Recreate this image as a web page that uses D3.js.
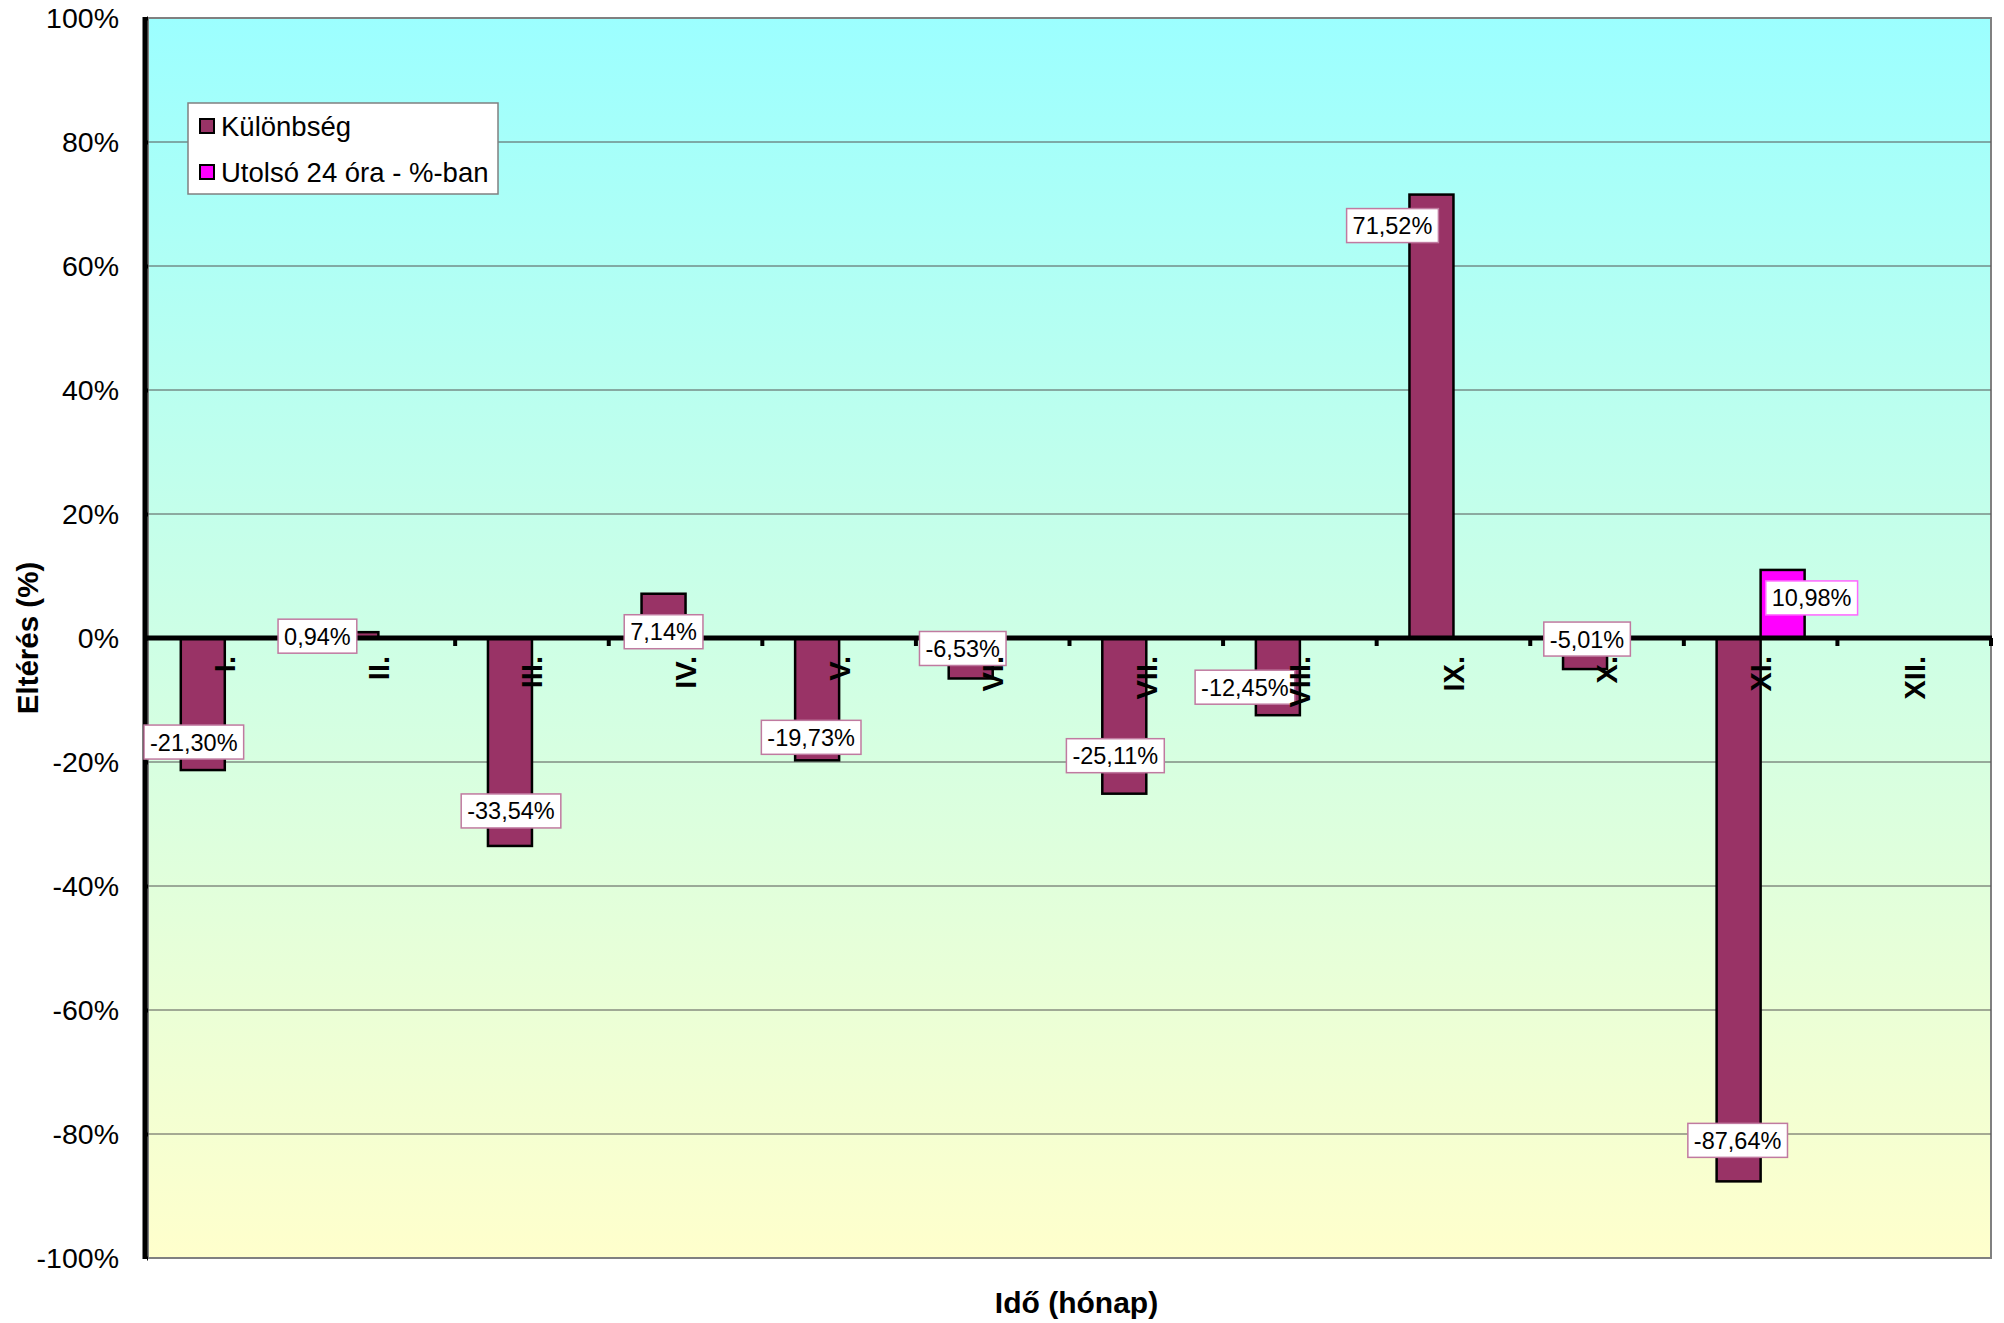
<!DOCTYPE html>
<meta charset="utf-8">
<html>
<head>
<script src="https://d3js.org/d3.v7.min.js"></script>
<style>
  body { margin: 0; background: #fff; }
  text { font-family: "Liberation Sans", Arial, Helvetica, sans-serif; }
</style>
</head>
<body>
<div id="my_dataviz"></div>
<script>

// categories (months)
var months = ["I.", "II.", "III.", "IV.", "V.", "VI.", "VII.", "VIII.", "IX.", "X.", "XI.", "XII."];
var seriesNames = ["Különbség", "Utolsó 24 óra - %-ban"];

// values in %
var kulonbseg = [-21.30, 0.94, -33.54, 7.14, -19.73, -6.53, -25.11, -12.45, 71.52, -5.01, -87.64, null];
var utolso24 = [null, null, null, null, null, null, null, null, null, null, 10.98, null];

// y axis ticks
var yTicks = [-100, -80, -60, -40, -20, 0, 20, 40, 60, 80, 100];

// data label nudges (px) from bar centre / bar end, as placed in the original
var labelNudge1 = [[-9,-28],[-39,4],[1,-35],[0,38],[-6,-23],[-8,-30],[-9,-38],[-33,-28],[-39,31],[2,-30],[-1,-41],[0,0]];
var labelNudge2 = [[0,0],[0,0],[0,0],[0,0],[0,0],[0,0],[0,0],[0,0],[0,0],[0,0],[29,28],[0,0]];

var colors = ["#993366", "#ff00ff"];
var labelBorders = ["#c07aa0", "#ff66ff"];

var W = 2004, H = 1323;
var margin = {top: 18, right: 13, bottom: 65, left: 148};
var width = W - margin.left - margin.right,
    height = H - margin.top - margin.bottom;

var svgRoot = d3.select("#my_dataviz")
  .append("svg")
    .attr("width", W)
    .attr("height", H);

// background gradient
var defs = svgRoot.append("defs");
var grad = defs.append("linearGradient")
    .attr("id", "bg")
    .attr("x1", 0).attr("y1", 0).attr("x2", 0).attr("y2", 1);
grad.append("stop").attr("offset", "0%").attr("stop-color", "#9cffff");
grad.append("stop").attr("offset", "100%").attr("stop-color", "#ffffcc");

var svg = svgRoot.append("g")
    .attr("transform", "translate(" + margin.left + "," + margin.top + ")");

// scales
var x = d3.scaleBand()
  .domain(months)
  .range([0, width])
  .padding(0);

var x1 = d3.scaleBand()
  .domain(seriesNames)
  .range([x.bandwidth() * 0.2135, x.bandwidth() * 0.7865]);

var y = d3.scaleLinear()
  .domain([-100, 100])
  .range([height, 0]);

// plot area
svg.append("rect")
  .attr("x", 0).attr("y", 0)
  .attr("width", width).attr("height", height)
  .attr("fill", "url(#bg)")
  .attr("stroke", "#808080")
  .attr("stroke-width", 2);

// gridlines
svg.selectAll(".grid")
  .data(yTicks.filter(function(d) { return d !== 0 && d !== -100 && d !== 100; }))
  .enter()
  .append("line")
    .attr("x1", 0).attr("x2", width)
    .attr("y1", function(d) { return y(d); })
    .attr("y2", function(d) { return y(d); })
    .attr("stroke", "#555")
    .attr("stroke-width", 1);

// bars
var rows = months.map(function(m, i) {
  return {month: m, vals: [
    {s: 0, name: seriesNames[0], v: kulonbseg[i], nudge: labelNudge1[i]},
    {s: 1, name: seriesNames[1], v: utolso24[i], nudge: labelNudge2[i]}
  ].filter(function(d) { return d.v !== null; })};
});

var groups = svg.selectAll(".grp")
  .data(rows)
  .enter()
  .append("g")
    .attr("transform", function(d) { return "translate(" + x(d.month) + ",0)"; });

groups.selectAll("rect")
  .data(function(d) { return d.vals; })
  .enter()
  .append("rect")
    .attr("x", function(d) { return x1(d.name); })
    .attr("y", function(d) { return y(Math.max(0, d.v)); })
    .attr("width", x1.bandwidth())
    .attr("height", function(d) { return Math.abs(y(d.v) - y(0)); })
    .attr("fill", function(d) { return colors[d.s]; })
    .attr("stroke", "#000")
    .attr("stroke-width", 2.5);

// y axis (left) - thick line with ticks
var yAxis = svg.append("g")
  .call(d3.axisLeft(y).tickValues(yTicks).tickSize(9).tickFormat(function(d) { return d + "%"; }));
yAxis.select(".domain").remove();
yAxis.selectAll(".tick line").attr("stroke", "#000").attr("stroke-width", 4).attr("x2", -1);
yAxis.selectAll(".tick text")
  .attr("x", -29)
  .attr("dy", "0.35em")
  .style("font-size", "28.5px")
  .attr("fill", "#000");
svg.append("line")
  .attr("x1", -3).attr("x2", -3)
  .attr("y1", -1).attr("y2", height + 1)
  .attr("stroke", "#000").attr("stroke-width", 5);

// zero line with category ticks
svg.append("line")
  .attr("x1", -3).attr("x2", width + 1)
  .attr("y1", y(0)).attr("y2", y(0))
  .attr("stroke", "#000").attr("stroke-width", 5);
svg.selectAll(".xtick")
  .data(months.slice(1).concat(["end"]))
  .enter()
  .append("line")
    .attr("x1", function(d, i) { return x.step() * (i + 1); })
    .attr("x2", function(d, i) { return x.step() * (i + 1); })
    .attr("y1", y(0)).attr("y2", y(0) + 8)
    .attr("stroke", "#000").attr("stroke-width", 4);

// data labels (above the axis lines)
var labelGroups = svg.selectAll(".lblgrp")
  .data(rows)
  .enter()
  .append("g")
    .attr("transform", function(d) { return "translate(" + x(d.month) + ",0)"; });

var labels = labelGroups.selectAll(".lbl")
  .data(function(d) { return d.vals; })
  .enter()
  .append("g")
    .attr("transform", function(d) {
      var cx = x1(d.name) + x1.bandwidth() / 2 + d.nudge[0];
      var cy = y(d.v) + d.nudge[1];
      return "translate(" + cx + "," + cy + ")";
    });

labels.append("text")
  .attr("text-anchor", "middle")
  .attr("dy", "0.36em")
  .style("font-size", "23.5px")
  .attr("fill", "#000")
  .text(function(d) { return d3.format(".2f")(d.v).replace("−", "-").replace(".", ",") + "%"; })
  .each(function(d) {
    var bb = this.getBBox();
    d3.select(this.parentNode).insert("rect", "text")
      .attr("x", bb.x - 6).attr("y", -17)
      .attr("width", bb.width + 12).attr("height", 34)
      .attr("fill", "#fff")
      .attr("stroke", labelBorders[d.s])
      .attr("stroke-width", 1.5);
  });

// category labels (rotated)
svg.selectAll(".cat")
  .data(months)
  .enter()
  .append("text")
    .attr("transform", function(d) {
      return "translate(" + (x(d) + x.bandwidth() / 2) + "," + (y(0) + 18) + ") rotate(-90)";
    })
    .attr("text-anchor", "end")
    .attr("dy", "0.36em")
    .style("font-size", "29px")
    .style("font-weight", "bold")
    .attr("fill", "#000")
    .text(function(d) { return d; });

// axis titles
svg.append("text")
  .attr("transform", "translate(" + (28 - margin.left) + "," + (height / 2) + ") rotate(-90)")
  .attr("text-anchor", "middle")
  .attr("dy", "0.35em")
  .style("font-size", "29.5px")
  .style("font-weight", "bold")
  .text("Eltérés (%)");

svg.append("text")
  .attr("x", width / 2 + 7)
  .attr("y", 1313 - margin.top)
  .attr("text-anchor", "middle")
  .style("font-size", "30px")
  .style("font-weight", "bold")
  .text("Idő (hónap)");

// legend
var legend = svgRoot.append("g").attr("transform", "translate(188,103)");
legend.append("rect")
  .attr("width", 310).attr("height", 91)
  .attr("fill", "#fff")
  .attr("stroke", "#808080")
  .attr("stroke-width", 1.5);
var li = legend.selectAll(".li")
  .data(seriesNames)
  .enter()
  .append("g")
    .attr("transform", function(d, i) { return "translate(11," + (23 + i * 46) + ")"; });
li.append("rect")
  .attr("x", 1).attr("y", -7)
  .attr("width", 14).attr("height", 14)
  .attr("fill", function(d, i) { return colors[i]; })
  .attr("stroke", "#000")
  .attr("stroke-width", 2);
li.append("text")
  .attr("x", 22)
  .attr("dy", "0.36em")
  .style("font-size", "27.5px")
  .text(function(d) { return d; });

</script>
</body>
</html>
